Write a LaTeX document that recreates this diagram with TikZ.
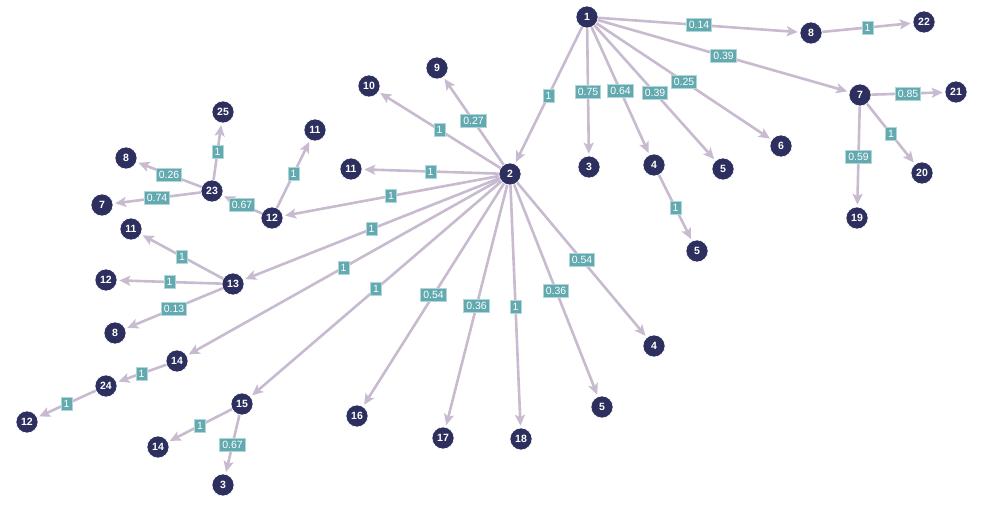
\documentclass[tikz,border=0pt]{standalone}
\usepackage{fontspec}
\setmainfont{Liberation Sans}
\usetikzlibrary{arrows.meta}
\definecolor{nodefill}{HTML}{2D2F5E}
\definecolor{edgecol}{HTML}{C8BACF}
\definecolor{labfill}{HTML}{62A9B0}
\definecolor{labdraw}{HTML}{B0D6DA}
\tikzset{
 vert/.style={circle, fill=nodefill, draw=white, line width=0.6pt, minimum size=22pt, inner sep=0pt, text=white, font=\bfseries\fontsize{10.5}{10.5}\selectfont},
 wt/.style={fill=labfill, draw=labdraw, line width=0.8pt, text=white, font=\fontsize{10.5}{10.5}\selectfont, inner xsep=2.6pt, inner ysep=1.5pt, minimum height=13pt, midway},
 conn/.style={draw=edgecol, line width=2.6pt, -{Stealth[length=11pt, width=10pt, inset=2.5pt]}, shorten >=2pt}
}
\begin{document}
\begin{tikzpicture}[x=1pt,y=-1pt]
\useasboundingbox (0,0) rectangle (981,510);
% nodes
\node[vert] (n1) at (587,17) {1};
\node[vert] (n2) at (510,174) {2};
\node[vert] (n3a) at (589,167) {3};
\node[vert] (n4a) at (654,165) {4};
\node[vert] (n5a) at (723,169) {5};
\node[vert] (n6) at (781,146) {6};
\node[vert] (n7a) at (860,95) {7};
\node[vert] (n8a) at (811,33) {8};
\node[vert] (n22) at (924,22) {22};
\node[vert] (n21) at (956,92) {21};
\node[vert] (n20) at (922,173) {20};
\node[vert] (n19) at (857,218) {19};
\node[vert] (n5b) at (697,251) {5};
\node[vert] (n9) at (437,68) {9};
\node[vert] (n10) at (369,86) {10};
\node[vert] (n11a) at (351,169) {11};
\node[vert] (n12a) at (272,218) {12};
\node[vert] (n11b) at (315,130) {11};
\node[vert] (n23) at (212,191) {23};
\node[vert] (n25) at (223,112) {25};
\node[vert] (n8b) at (126,158) {8};
\node[vert] (n7b) at (102,205) {7};
\node[vert] (n13) at (233,284) {13};
\node[vert] (n11c) at (131,229) {11};
\node[vert] (n12b) at (106,280) {12};
\node[vert] (n8c) at (115,333) {8};
\node[vert] (n14a) at (177,361) {14};
\node[vert] (n24) at (106,386) {24};
\node[vert] (n12c) at (27,422) {12};
\node[vert] (n15) at (242,404) {15};
\node[vert] (n14b) at (158,447) {14};
\node[vert] (n3b) at (223,485) {3};
\node[vert] (n16) at (357,416) {16};
\node[vert] (n17) at (443,438) {17};
\node[vert] (n18) at (521,439) {18};
\node[vert] (n5c) at (602,407) {5};
\node[vert] (n4b) at (654,346) {4};
% edges from 1
\draw[conn] (n1) -- node[wt]{1} (n2);
\draw[conn] (n1) -- node[wt]{0.75} (n3a);
\draw[conn] (n1) -- node[wt]{0.64} (n4a);
\draw[conn] (n1) -- node[wt]{0.39} (n5a);
\draw[conn] (n1) -- node[wt]{0.25} (n6);
\draw[conn] (n1) -- node[wt]{0.39} (n7a);
\draw[conn] (n1) -- node[wt]{0.14} (n8a);
\draw[conn] (n8a) -- node[wt]{1} (n22);
\draw[conn] (n7a) -- node[wt]{0.85} (n21);
\draw[conn] (n7a) -- node[wt]{1} (n20);
\draw[conn] (n7a) -- node[wt]{0.59} (n19);
\draw[conn] (n4a) -- node[wt]{1} (n5b);
% edges from 2
\draw[conn] (n2) -- node[wt]{0.27} (n9);
\draw[conn] (n2) -- node[wt]{1} (n10);
\draw[conn] (n2) -- node[wt]{1} (n11a);
\draw[conn] (n2) -- node[wt]{1} (n12a);
\draw[conn] (n2) -- node[wt]{1} (n13);
\draw[conn] (n2) -- node[wt]{1} (n14a);
\draw[conn] (n2) -- node[wt]{1} (n15);
\draw[conn] (n2) -- node[wt]{0.54} (n16);
\draw[conn] (n2) -- node[wt]{0.36} (n17);
\draw[conn] (n2) -- node[wt]{1} (n18);
\draw[conn] (n2) -- node[wt]{0.36} (n5c);
\draw[conn] (n2) -- node[wt]{0.54} (n4b);
% left side
\draw[conn] (n12a) -- node[wt]{1} (n11b);
\draw[conn] (n12a) -- node[wt]{0.67} (n23);
\draw[conn] (n23) -- node[wt]{1} (n25);
\draw[conn] (n23) -- node[wt]{0.26} (n8b);
\draw[conn] (n23) -- node[wt]{0.74} (n7b);
\draw[conn] (n13) -- node[wt]{1} (n11c);
\draw[conn] (n13) -- node[wt]{1} (n12b);
\draw[conn] (n13) -- node[wt]{0.13} (n8c);
\draw[conn] (n14a) -- node[wt]{1} (n24);
\draw[conn] (n24) -- node[wt]{1} (n12c);
\draw[conn] (n15) -- node[wt]{1} (n14b);
\draw[conn] (n15) -- node[wt]{0.67} (n3b);
\end{tikzpicture}
\end{document}
